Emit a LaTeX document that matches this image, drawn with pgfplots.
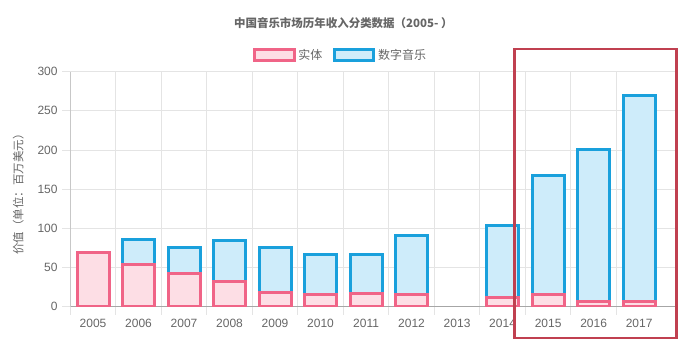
\documentclass[border=0pt]{standalone}
\usepackage{pgfplots}
\pgfplotsset{compat=1.18}
\usepackage{fontspec}
\setmainfont{Liberation Sans}
\newfontfamily\cjk{Noto Sans CJK SC}
\definecolor{pinkline}{RGB}{240,100,135}
\definecolor{pinkfill}{RGB}{253,222,229}
\definecolor{blueline}{RGB}{25,160,220}
\definecolor{bluefill}{RGB}{206,236,250}
\definecolor{boxred}{RGB}{192,64,80}
\definecolor{txt}{RGB}{102,102,102}
\definecolor{gridc}{RGB}{228,228,228}
\begin{document}
\begin{tikzpicture}
\path[use as bounding box] (0,0) rectangle (522.75pt,264pt);
\node[font=\cjk\bfseries\fontsize{8.6}{10}\selectfont, text=txt] at (257.5pt,247pt) {中国音乐市场历年收入分类数据（2005- ）};
\begin{axis}[
  at={(52.69pt,33.98pt)}, anchor=south west,
  scale only axis, width=454.3pt, height=176.25pt,
  xmin=-0.5, xmax=12.81, ymin=0, ymax=300,
  ytick={0,50,...,300},
  xtick={0,...,12},
  xticklabels={2005,2006,2007,2008,2009,2010,2011,2012,2013,2014,2015,2016,2017},
  minor xtick={-0.5,0.5,...,11.5},
  axis x line*=bottom, axis y line*=left,
  x axis line style={draw=black!35, line width=0.75pt},
  y axis line style={draw=black!22, line width=0.75pt},
  tick align=outside,
  major tick length=6pt, minor tick length=6pt,
  tick style={draw=gridc, line width=0.75pt},
  major x tick style={draw=none},
  ymajorgrids=true, xminorgrids=true, xmajorgrids=false,
  major grid style={draw=gridc, line width=0.75pt},
  minor grid style={draw=gridc, line width=0.75pt},
  /pgf/number format/assume math mode=true,
  every tick label/.append style={font=\fontsize{9}{10}\selectfont, text=txt},
  ylabel={\cjk 价值（单位：百万美元）},
  ylabel style={at={(axis description cs:-0.086,0.49)}, anchor=center, font=\fontsize{8.6}{10}\selectfont, text=txt},
  ybar, bar width=24pt,
  legend image code/.code={\draw[#1] (0pt,-4.1pt) rectangle (29.5pt,4.1pt);},
  legend style={draw=none, fill=none, at={(0.447,1.071)}, anchor=center,
    legend columns=2, font=\fontsize{9}{10}\selectfont, text=txt,
    /tikz/every even column/.append style={column sep=6pt}},
]
\addlegendimage{draw=pinkline, fill=pinkfill, line width=2.25pt}
\addlegendentry{\cjk 实体}
\addlegendimage{draw=blueline, fill=bluefill, line width=2.25pt}
\addlegendentry{\cjk 数字音乐}
% 数字音乐 drawn as the stacked top (实体 + 数字音乐)
\addplot[forget plot, bar shift=0pt, draw=blueline, fill=bluefill, line width=2.25pt]
  coordinates {(1,86)(2,76)(3,84)(4,75)(5,67)(6,67)(7,91)(9,104)(10,168)(11,201)(12,270)};
% 实体
\addplot[forget plot, bar shift=0pt, draw=pinkline, fill=pinkfill, line width=2.25pt]
  coordinates {(0,69)(1,54)(2,42)(3,32)(4,18)(5,16)(6,17)(7,16)(9,12)(10,16)(11,7)(12,7)};
\end{axis}
\draw[boxred, line width=1.9pt] (385.9pt,10.5pt) rectangle (507.4pt,227.25pt);
\end{tikzpicture}
\end{document}
